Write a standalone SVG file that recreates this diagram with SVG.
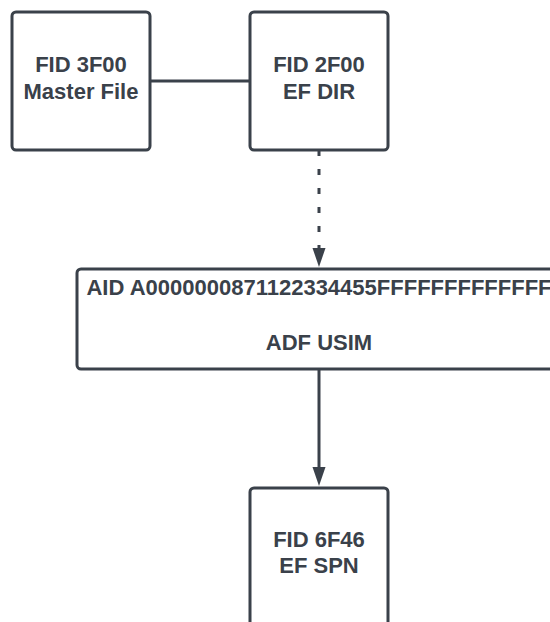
<svg xmlns="http://www.w3.org/2000/svg" width="550" height="622" viewBox="0 0 550 622">
<style>
.box{fill:#ffffff;stroke:#3a414a;stroke-width:3}
.lbl{font-family:"Liberation Sans",Arial,sans-serif;font-weight:bold;font-size:22px;fill:#3a414a;text-anchor:middle}
.conn{stroke:#3a414a;stroke-width:3;fill:none}
</style>
<defs>
<marker id="arr" markerUnits="userSpaceOnUse" markerWidth="14" markerHeight="20" refX="19" refY="7" orient="auto" viewBox="0 0 20 14">
<path d="M0,0 L19,7 L0,14 Z" fill="#3a414a"/>
</marker>
</defs>
<rect width="550" height="622" fill="#ffffff"/>
<g id="connectors">
<line class="conn" x1="150" y1="81" x2="250" y2="81"/>
<line class="conn" x1="319" y1="150" x2="319" y2="248" stroke-dasharray="6 13"/>
<path d="M312.5,248 L325.5,248 L319,267 Z" fill="#3a414a"/>
<line class="conn" x1="319" y1="369" x2="319" y2="468"/>
<path d="M312.5,467 L325.5,467 L319,486 Z" fill="#3a414a"/>
</g>
<g id="mf">
<rect class="box" x="12" y="12" width="138" height="138" rx="4"/>
<text class="lbl" x="81" y="72">FID 3F00</text>
<text class="lbl" x="81" y="99">Master File</text>
</g>
<g id="efdir">
<rect class="box" x="250" y="12" width="138" height="138" rx="4"/>
<text class="lbl" x="319" y="72">FID 2F00</text>
<text class="lbl" x="319" y="99">EF DIR</text>
</g>
<g id="usim">
<rect class="box" x="77" y="269" width="484" height="100" rx="4"/>
<text class="lbl" x="319" y="295">AID A0000000871122334455FFFFFFFFFFFFF</text>
<text class="lbl" x="319" y="350">ADF USIM</text>
</g>
<g id="efspn">
<rect class="box" x="250" y="488" width="138" height="138" rx="4"/>
<text class="lbl" x="319" y="547">FID 6F46</text>
<text class="lbl" x="319" y="573">EF SPN</text>
</g>
</svg>
